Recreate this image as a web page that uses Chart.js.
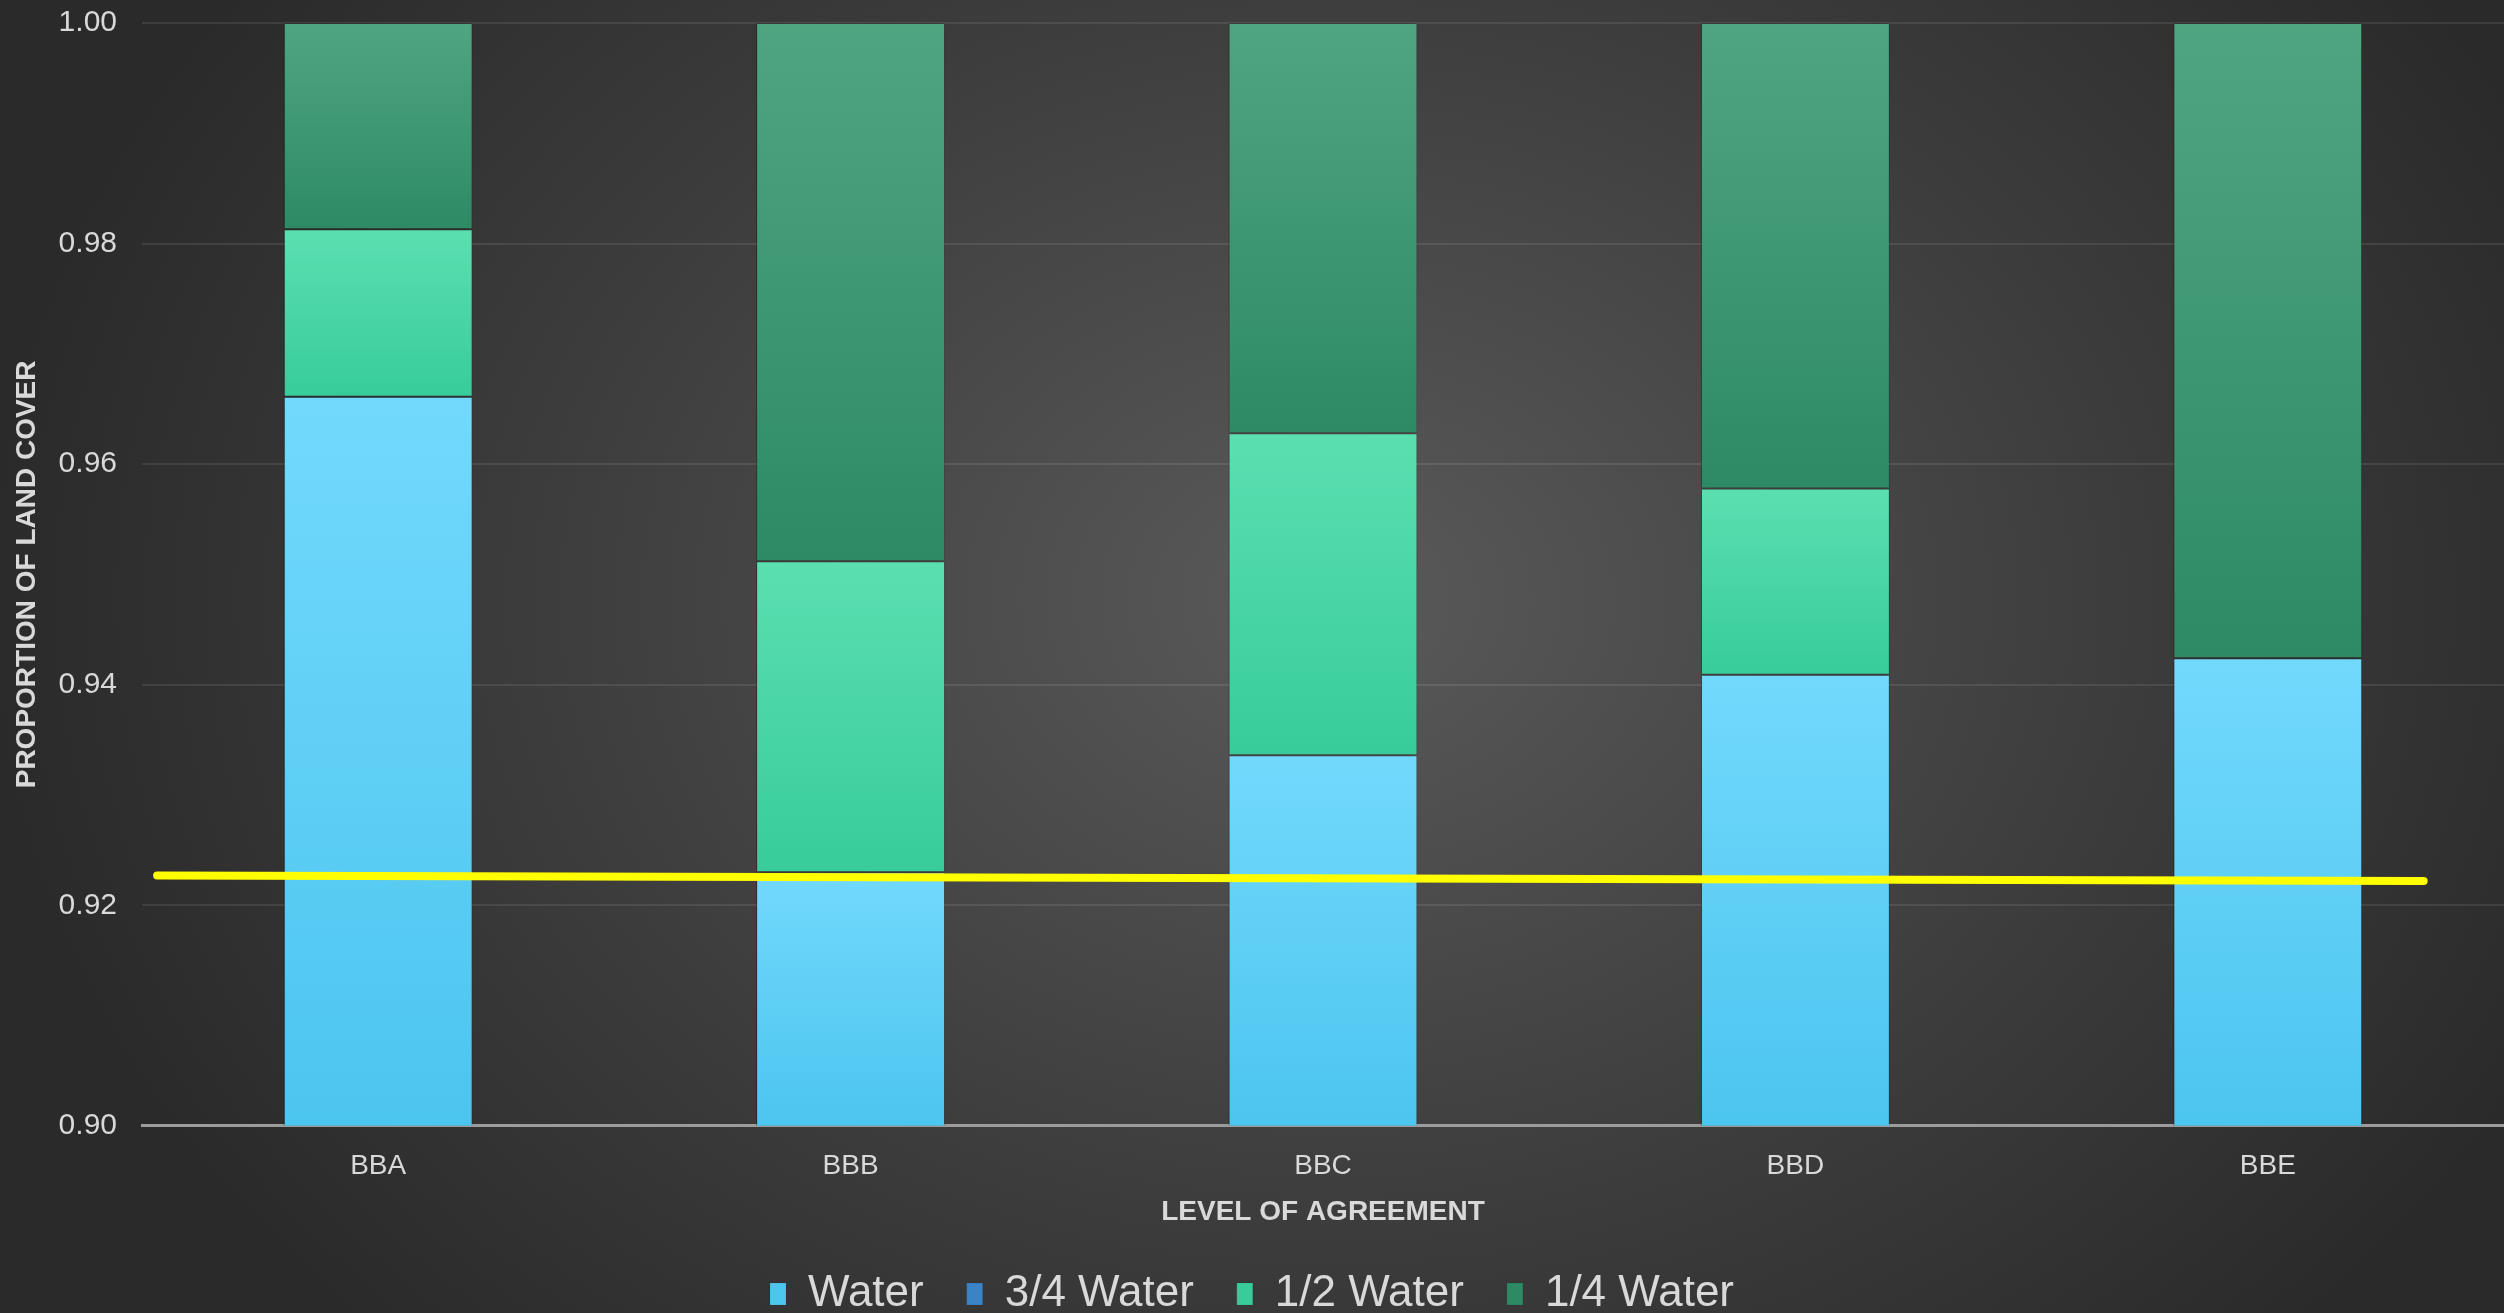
<!DOCTYPE html>
<html>
<head>
<meta charset="utf-8">
<script src="https://cdn.jsdelivr.net/npm/chart.js@4"></script>
<style>
  html, body { margin: 0; padding: 0; overflow: hidden; width: 2504px; height: 1313px; }
  body {
    background: radial-gradient(ellipse 1350px 1050px at 1330px 600px, #5a5a5a 0%, #3c3c3c 60%, #2a2a2a 100%);
    background-color: #2a2a2a;
  }
  #wrap { width: 2504px; height: 1346px; margin-top: -20px; }
</style>
</head>
<body>
<div id="wrap"><canvas id="myChart"></canvas></div>
<script>
const categories = ['BBA', 'BBB', 'BBC', 'BBD', 'BBE'];
const water = [0.9661, 0.9230, 0.9336, 0.9409, 0.9424];
const threeQuarterWater = [0, 0, 0, 0, 0];
const halfWater = [0.0152, 0.0282, 0.0292, 0.0169, 0];
const quarterWater = [0.0187, 0.0488, 0.0372, 0.0422, 0.0576];
const yTicks = [0.90, 0.92, 0.94, 0.96, 0.98, 1.00];

// trend line (yellow), x in category units
const trendX = [-0.468, 4.33];
const trendY = [0.9227, 0.9222];

window.onload = function () {
    const ctx = document.getElementById('myChart').getContext('2d');
    const FONT = "'Liberation Sans', Arial, sans-serif";
    const TEXT = '#d9d9d9';

    const series = [water, threeQuarterWater, halfWater, quarterWater];
    const names = ['Water', '3/4 Water', '1/2 Water', '1/4 Water'];
    const topCol = ['#72d9fc', '#4a92d2', '#5bdfb1', '#50a581'];
    const botCol = ['#4cc5ef', '#2f7bbf', '#38cc9b', '#2d8a65'];
    const solid = ['#58cdf4', '#3a84c6', '#44d3a4', '#379373'];

    // running base for each stacked segment
    const bases = series.map((s, k) => s.map((v, i) => {
        let b = 0;
        for (let j = 0; j < k; j++) b += series[j][i];
        return b;
    }));

    function segFill(k) {
        return function (c) {
            if (c.type !== 'data') return solid[k];
            const chart = c.chart, ys = chart.scales.y;
            if (!ys || !chart.chartArea) return solid[k];
            const lo = bases[k][c.dataIndex];
            const hi = lo + series[k][c.dataIndex];
            const yTop = ys.getPixelForValue(Math.min(hi, 1));
            const yBot = ys.getPixelForValue(Math.max(lo, 0.9));
            if (!isFinite(yTop) || !isFinite(yBot) || yBot - yTop < 1) return solid[k];
            const g = chart.ctx.createLinearGradient(0, yTop, 0, yBot);
            g.addColorStop(0, topCol[k]);
            g.addColorStop(1, botCol[k]);
            return g;
        };
    }

    // soft shadow behind the bars only
    const barShadow = {
        id: 'barShadow',
        beforeDatasetDraw(chart, args) {
            if (args.meta.type !== 'bar') return;
            chart.ctx.save();
            chart.ctx.shadowColor = 'rgba(0,0,0,0.35)';
            chart.ctx.shadowBlur = 6;
            chart.ctx.shadowOffsetX = -2;
        },
        afterDatasetDraw(chart, args) {
            if (args.meta.type !== 'bar') return;
            chart.ctx.restore();
        }
    };

    const barSets = series.map((s, k) => ({
        type: 'bar',
        label: names[k],
        data: s,
        xAxisID: 'x',
        yAxisID: 'y',
        stack: 'land',
        grouped: false,
        backgroundColor: segFill(k),
        borderColor: 'rgba(0,0,0,0.08)',
        borderWidth: 1,
        borderSkipped: false,
        barPercentage: 0.4,
        categoryPercentage: 1.0,
        order: 2
    }));

    const trendSet = {
        type: 'line',
        label: 'Trend',
        data: trendX.map((x, i) => ({ x: x, y: trendY[i] })),
        xAxisID: 'x2',
        yAxisID: 'y',
        borderColor: '#ffff00',
        borderWidth: 8,
        borderCapStyle: 'round',
        pointRadius: 0,
        fill: false,
        order: 0
    };

    const config = {
        data: { labels: categories, datasets: [...barSets, trendSet] },
        plugins: [barShadow],
        options: {
            responsive: true,
            maintainAspectRatio: false,
            animation: false,
            layout: { padding: { top: 6, left: 0, right: 0, bottom: 0 } },
            plugins: {
                legend: {
                    position: 'bottom',
                    labels: {
                        filter: item => item.text !== 'Trend',
                        color: TEXT,
                        font: { family: FONT, size: 44 },
                        boxWidth: 16,
                        boxHeight: 22,
                        padding: 43
                    }
                },
                title: { display: false },
                tooltip: { enabled: false }
            },
            scales: {
                x: {
                    type: 'category',
                    stacked: true,
                    grid: { display: false, drawTicks: false },
                    border: { display: true, color: '#9c9c9c', width: 3 },
                    ticks: { color: TEXT, font: { family: FONT, size: 28 }, padding: 24 },
                    title: {
                        display: true,
                        text: 'LEVEL OF AGREEMENT',
                        color: TEXT,
                        font: { family: FONT, size: 28, weight: 'bold' },
                        padding: { top: -12, bottom: 0 }
                    }
                },
                x2: {
                    type: 'linear',
                    display: false,
                    min: -0.5,
                    max: 4.5
                },
                y: {
                    stacked: true,
                    min: yTicks[0],
                    max: yTicks[yTicks.length - 1],
                    afterBuildTicks: s => { s.ticks = yTicks.map(v => ({ value: v })); },
                    afterFit: s => { s.width = 142; },
                    grid: { color: 'rgba(255,255,255,0.09)', lineWidth: 2, drawTicks: false },
                    border: { display: false },
                    ticks: {
                        color: TEXT,
                        font: { family: FONT, size: 30 },
                        padding: 25,
                        callback: v => Number(v).toFixed(2)
                    },
                    title: {
                        display: true,
                        text: 'PROPORTION OF LAND COVER',
                        color: TEXT,
                        font: { family: FONT, size: 28, weight: 'bold' },
                        padding: { top: 10, bottom: 0 }
                    }
                }
            }
        }
    };

    const myChart = new Chart(ctx, config);
};
</script>
</body>
</html>
